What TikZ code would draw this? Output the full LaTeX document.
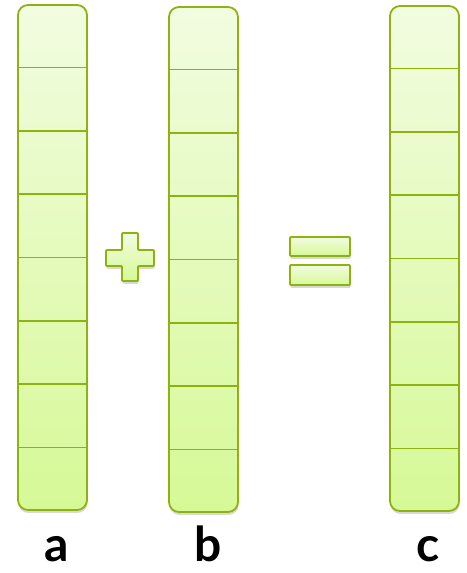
\documentclass[tikz,border=0pt]{standalone}
\usepackage{fontspec}
\setmainfont{Lato}
\usepackage{xcolor}
\definecolor{vecTop}{RGB}{242,252,225}
\definecolor{vecBottom}{RGB}{214,249,150}
\definecolor{vecEdge}{RGB}{142,178,16}
\usetikzlibrary{shadows, calc}

\tikzset{
  vecbar/.style={draw=vecEdge, line width=1.8pt, rounded corners=10pt,
    top color=vecTop, bottom color=vecBottom, inner sep=0pt,
    minimum width=69pt, minimum height=505pt,
    drop shadow={shadow xshift=0.5pt, shadow yshift=-3pt, opacity=0.25, fill=black!60}},
  divider/.style={vecEdge, line width=1.8pt},
  opsign/.style={draw=vecEdge, line width=1.8pt, rounded corners=1pt,
    top color=vecTop, bottom color=vecBottom,
    drop shadow={shadow xshift=0.5pt, shadow yshift=-3pt, opacity=0.25, fill=black!60}},
  veclabel/.style={font=\fontsize{48}{48}\selectfont\bfseries, anchor=base, inner sep=0pt}
}

\begin{document}
\begin{tikzpicture}[x=1pt, y=1pt]
  \useasboundingbox (0,0) rectangle (466,573);

  % --- the three vectors ---
  \node[vecbar] (barA) at (52.5,315.5) {};
  \node[vecbar] (barB) at (203.5,313.5) {};
  \node[vecbar] (barC) at (424.5,314.5) {};

  % cell dividers, 8 cells each
  \foreach \bar in {barA, barB, barC}
    \foreach \k in {1,...,7}
      \draw[divider] ($(\bar.north west)!\k/8!(\bar.south west)$) -- ($(\bar.north east)!\k/8!(\bar.south east)$);

  % --- plus sign ---
  \path[opsign] (122,340) -- (138,340) -- (138,323) -- (154,323) -- (154,307)
    -- (138,307) -- (138,292) -- (122,292) -- (122,307) -- (106,307)
    -- (106,323) -- (122,323) -- cycle;

  % --- equals sign ---
  \path[opsign] (290,317) rectangle (350,336);
  \path[opsign] (290,288) rectangle (350,308);

  % --- labels ---
  \node[veclabel] (labA) at (57,11) {a};
  \node[veclabel] (labB) at (208,11) {b};
  \node[veclabel] (labC) at (428,11) {c};
\end{tikzpicture}
\end{document}
